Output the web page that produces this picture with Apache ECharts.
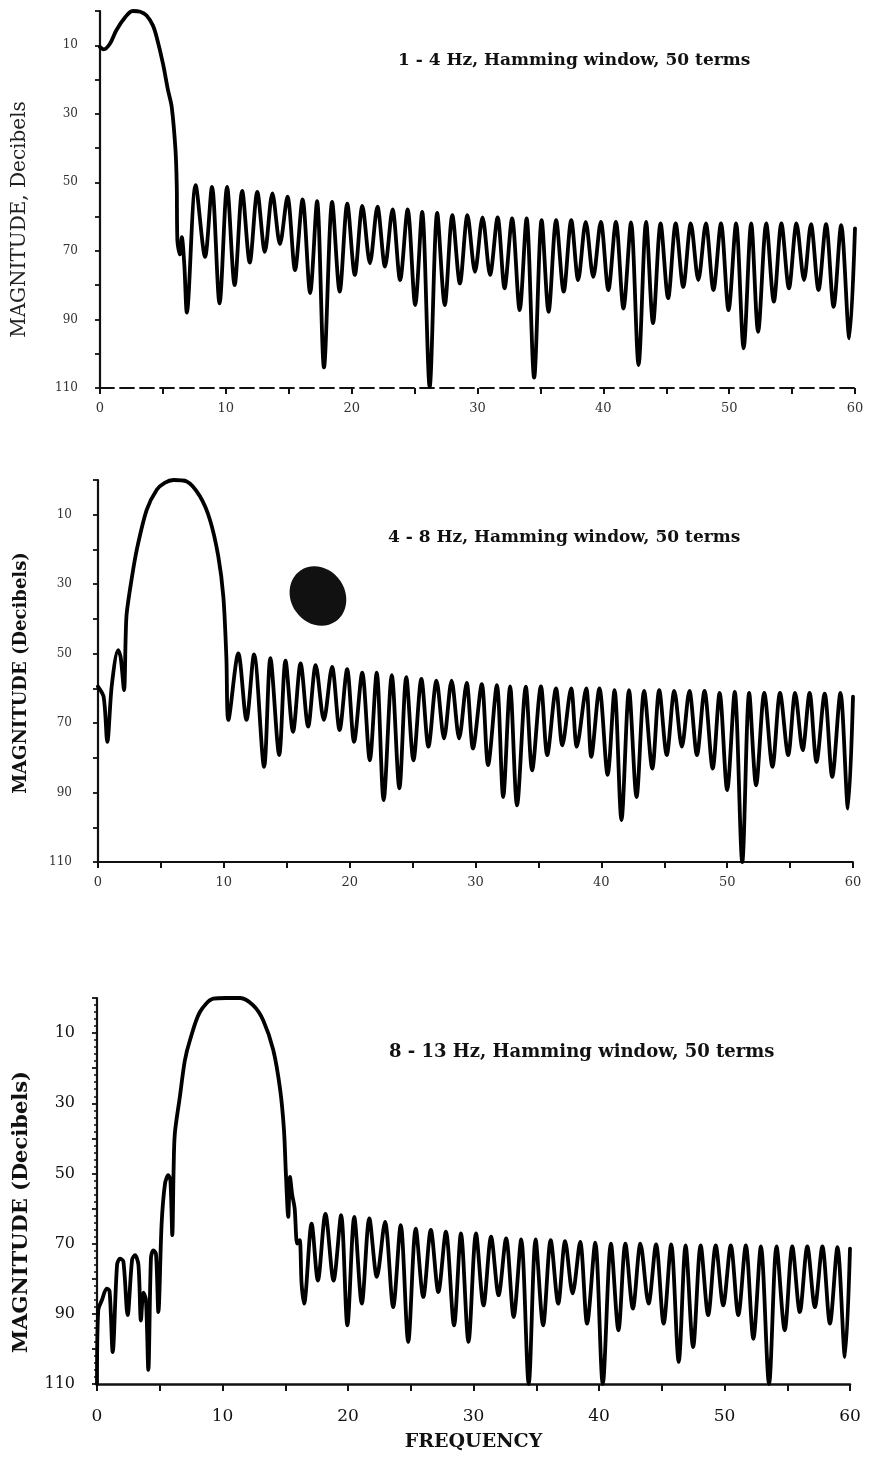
<!DOCTYPE html>
<html>
<head>
<meta charset="utf-8">
<script src="https://cdn.jsdelivr.net/npm/echarts@6/dist/echarts.min.js"></script>
<style>
html,body{margin:0;padding:0;background:#fff;}
#chart{width:871px;height:1460px;}
</style>
</head>
<body>
<div id="chart"></div>
<script>
// ---- data (frequency Hz, magnitude dB attenuation) ----
const titles = ['1 - 4 Hz, Hamming window, 50 terms', '4 - 8 Hz, Hamming window, 50 terms', '8 - 13 Hz, Hamming window, 50 terms'];
const yAxisNames = ['MAGNITUDE, Decibels', 'MAGNITUDE (Decibels)', 'MAGNITUDE (Decibels)'];
const xAxisName = 'FREQUENCY';
const yTickLabels = [10, 30, 50, 70, 90, 110];
const xTickLabels = [0, 10, 20, 30, 40, 50, 60];

const p1 = [
[0,10.5],[0.3,11.2],[0.8,9.5],[1.3,5.6],[2.0,1.8],[2.6,0],[3.2,0.2],[3.7,1.3],[4.2,4.2],[4.5,7.6],[5.0,15.3],[5.4,23],[5.7,28],[6.0,40.6],[6.1,51],[6.15,67],[6.35,71],[6.5,66],[6.7,74],[6.9,88],
[7.6,50.8],[8.35,71.7],[8.9,51.3],[9.5,85.3],[10.1,51.3],[10.7,80],[11.3,52.5],[11.9,73.4],[12.5,52.8],[13.1,70.3],[13.7,53.2],[14.3,68],[14.9,54.2],[15.5,75.6],[16.1,55],[16.7,82.3],[17.25,55.5],[17.8,104],[18.45,55.7],[19.05,81.9],[19.65,56.2],[20.25,77],[20.85,56.9],[21.45,73.6],[22.05,57.1],[22.65,74.6],[23.25,57.9],[23.85,78.5],[24.45,57.9],[25.05,85.8],[25.6,58.6],[26.2,109.6],[26.8,58.9],[27.4,85.8],[28.0,59.6],[28.6,79.5],[29.2,59.6],[29.8,76.1],[30.4,60.2],[31.0,77],[31.6,60.2],[32.15,80.9],[32.75,60.5],[33.35,87.3],[33.9,60.5],[34.5,107],[35.1,61],[35.65,87.8],[36.25,61],[36.85,81.9],[37.45,61],[38.0,78.5],[38.6,61.5],[39.2,77.6],[39.8,61.5],[40.4,81.4],[41.0,61.5],[41.6,86.8],[42.2,61.7],[42.8,103.3],[43.4,61.5],[43.95,91.1],[44.55,62],[45.15,83.8],[45.75,62],[46.35,80.5],[46.95,62],[47.55,78.5],[48.15,62],[48.75,81.4],[49.35,62],[49.95,87.3],[50.55,62],[51.15,98.4],[51.75,62],[52.3,93.6],[52.95,62],[53.55,84.8],[54.15,62],[54.75,80.9],[55.35,62],[55.95,78.5],[56.5,62.2],[57.1,81.4],[57.7,62.2],[58.3,86.3],[58.9,62.5],[59.55,95.5],[60,63.4]
];

const p2 = [
[0,59.5],[0.45,62.5],[0.74,75.4],[1.1,59],[1.6,49],[1.8,51],[2.07,60.5],[2.2,45],[2.28,38.4],[2.66,28.8],[3.08,20.1],[3.87,8.6],[4.67,2.8],[5.3,0.8],[6.0,0],[7.05,0.4],[8.1,4.7],[8.9,11.5],[9.56,22],[9.96,33.6],[10.2,50.9],[10.36,69.1],
[11.15,49.9],[11.8,69.1],[12.4,50.2],[13.2,82.6],[13.7,51.3],[14.4,79.2],[14.9,52],[15.5,72.5],[16.1,52.8],[16.7,71],[17.3,53.3],[17.95,69.1],[18.6,53.8],[19.2,72],[19.8,54.5],[20.35,75.4],[21.0,55.5],[21.6,80.7],[22.15,55.5],[22.7,92.2],[23.35,56.2],[23.95,88.8],[24.5,56.8],[25.07,80.7],[25.7,57.3],[26.26,76.8],[26.9,57.8],[27.5,74.4],[28.1,57.8],[28.7,74.4],[29.3,58.4],[29.8,77.3],[30.5,58.8],[31.0,82.1],[31.7,59.1],[32.2,91.3],[32.75,59.4],[33.3,93.7],[34.0,59.5],[34.5,83.6],[35.2,59.4],[35.7,79.2],[36.4,60],[36.9,76.4],[37.6,60],[38.05,76.8],[38.8,60],[39.2,79.7],[39.85,60],[40.5,84.9],[41.05,60.5],[41.6,97.9],[42.2,60.5],[42.8,91.3],[43.4,60.7],[44.05,83.1],[44.6,60.5],[45.2,79.2],[45.8,60.7],[46.4,76.8],[47.0,60.7],[47.6,79.2],[48.2,60.7],[48.85,83.1],[49.4,61.3],[50.0,89.3],[50.6,61],[51.2,110],[51.75,61.3],[52.3,87.9],[52.95,61.3],[53.6,82.6],[54.2,61.3],[54.85,79.2],[55.4,61.3],[56.0,77.8],[56.55,61.3],[57.1,81.2],[57.75,61.5],[58.35,85.5],[59.0,61.3],[59.6,94.6],[60,62.4]
];

const p3 = [
[0,110],[0.1,89],[0.4,86],[0.77,82.8],[1.0,83.5],[1.25,100.9],[1.6,76],[1.83,74.3],[2.1,75],[2.44,90.4],[2.8,74.5],[3.03,73.3],[3.3,76],[3.5,91.9],[3.7,84],[3.9,86],[4.09,106],[4.3,74],[4.49,71.9],[4.7,73],[4.89,89.5],[5.15,64.3],[5.42,52.9],[5.68,50.5],[5.85,52],[6.0,67.6],[6.1,49.6],[6.2,38.7],[6.6,28.2],[7.0,17.8],[7.4,12.1],[8.2,4],[9.27,0.2],[10.3,0],[11.4,0],[12.45,2.1],[13.25,6.4],[14.05,14.9],[14.6,26.3],[14.9,37.7],[15.05,50],[15.24,62.4],[15.38,51],[15.55,56],[15.75,60],[15.95,70],[16.15,69],[16.3,81.3],[16.5,87.1],[17.1,64.3],[17.6,80.5],[18.2,61.5],
[18.85,80.5],[19.45,61.9],[19.95,93.3],[20.5,62.4],[21.1,87.1],[21.7,62.8],[22.3,79.5],[22.95,63.8],[23.6,88.1],[24.2,64.7],[24.8,98],[25.4,65.7],[26.0,85.2],[26.6,66.1],[27.2,83.8],[27.8,66.6],[28.45,93.3],[29.0,67.1],[29.6,98],[30.2,67.1],[30.8,87.6],[31.4,68],[32.0,84.7],[32.6,68.5],[33.2,90.9],[33.8,68.8],[34.4,110],[34.95,68.8],[35.55,93.3],[36.15,69],[36.75,87.1],[37.3,69.3],[37.9,84.2],[38.5,69.5],[39.05,92.8],[39.7,69.7],[40.3,110],[40.95,70],[41.55,94.7],[42.1,70],[42.7,88.5],[43.3,70],[43.95,87.1],[44.55,70.2],[45.15,92.8],[45.75,70.2],[46.35,103.7],[46.9,70.5],[47.5,99.5],[48.1,70.5],[48.7,90.4],[49.3,70.5],[49.9,87.6],[50.5,70.5],[51.1,90.4],[51.7,70.5],[52.3,97.1],[52.9,70.8],[53.55,110],[54.15,70.8],[54.8,94.7],[55.4,70.8],[56.0,89.5],[56.6,70.8],[57.2,88.1],[57.8,70.8],[58.4,92.8],[59.0,71],[59.6,102.3],[60,71.4]
];

// ---- chart ----
const serif = '"DejaVu Serif","Liberation Serif",serif';
const chart = echarts.init(document.getElementById('chart'), null, {renderer: 'canvas'});

const grids = [
  {left: 100, top: 11, width: 755, height: 377},
  {left: 98, top: 480, width: 755, height: 382},
  {left: 97, top: 998, width: 753, height: 386}
];
const nameStyles = [
  {fontFamily: serif, fontSize: 20, fontWeight: 'normal', color: '#222', padding: [0, 40, 0, 0]},
  {fontFamily: serif, fontSize: 18, fontWeight: 'bold', color: '#111', padding: [0, 4, 0, 0]},
  {fontFamily: serif, fontSize: 21, fontWeight: 'bold', color: '#111', padding: [0, 42, 0, 0]}
];
const nameGaps = [70, 68, 65];

function xAxisOf(i) {
  const bold = i === 2;
  return {
    type: 'value', gridIndex: i, min: 0, max: 60, interval: 5,
    position: 'bottom',
    name: bold ? xAxisName : '',
    nameLocation: 'middle', nameGap: 49,
    nameTextStyle: {fontFamily: serif, fontSize: 19, fontWeight: 'bold', color: '#111'},
    axisLine: {onZero: false, lineStyle: {color: '#111', width: bold ? 2.5 : 1.8, type: i === 0 ? [14, 6] : 'solid'}},
    axisTick: {show: true, length: bold ? 7 : 6, lineStyle: {color: '#111', width: 2}},
    axisLabel: {
      fontFamily: serif, fontSize: bold ? 17 : 13, color: bold ? '#111' : '#333',
      margin: bold ? 24 : 14,
      formatter: v => xTickLabels.indexOf(v) >= 0 ? String(v) : ''
    },
    splitLine: {show: false}
  };
}
function yAxisOf(i) {
  const bold = i === 2;
  return {
    type: 'value', gridIndex: i, min: 0, max: 110, interval: 10, inverse: true,
    name: yAxisNames[i], nameLocation: 'middle', nameRotate: 90,
    nameGap: nameGaps[i],
    nameTextStyle: nameStyles[i],
    axisLine: {show: true, lineStyle: {color: '#111', width: 2.2}},
    axisTick: {show: true, length: 5, lineStyle: {color: '#111', width: 1.8}},
    minorTick: {show: bold, splitNumber: 5, length: 3, lineStyle: {color: '#111', width: 1.5}},
    axisLabel: {
      fontFamily: serif, fontSize: bold ? 16 : 12, color: bold ? '#111' : '#333',
      margin: i === 1 ? 26 : 22,
      formatter: v => yTickLabels.indexOf(v) >= 0 ? String(v) : ''
    },
    splitLine: {show: false}
  };
}

const titleStyle = (s) => ({fontFamily: serif, fontSize: s, fontWeight: 'bold', color: '#111'});
const option = {
  backgroundColor: '#fff',
  animation: false,
  title: [
    {text: titles[0], left: 393, top: 47, textStyle: titleStyle(17)},
    {text: titles[1], left: 383, top: 524, textStyle: titleStyle(17)},
    {text: titles[2], left: 384, top: 1038, textStyle: titleStyle(18)}
  ],
  grid: grids,
  xAxis: [0, 1, 2].map(xAxisOf),
  yAxis: [0, 1, 2].map(yAxisOf),
  series: [p1, p2, p3].map((d, i) => ({
    type: 'line', xAxisIndex: i, yAxisIndex: i, data: d,
    showSymbol: false, symbol: 'none', clip: false, smooth: 0.3,
    lineStyle: {color: '#000', width: 3.8, join: 'round', cap: 'round'}
  })),
  graphic: [
    {type: 'ellipse', x: 318, y: 596, rotation: 0.6, shape: {cx: 0, cy: 0, rx: 27, ry: 31}, style: {fill: '#111'}}
  ]
};
chart.setOption(option);
</script>
</body>
</html>
